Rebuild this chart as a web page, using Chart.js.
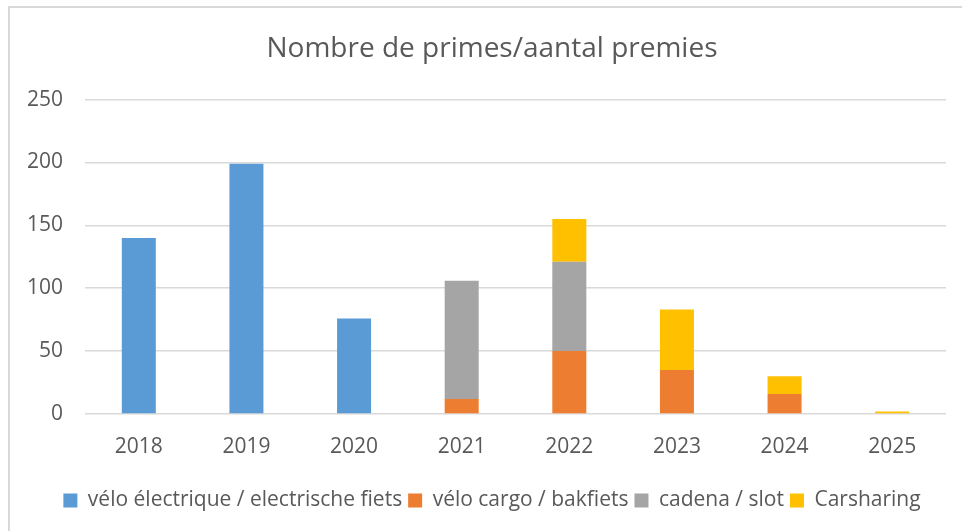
<!DOCTYPE html>
<html>
<head>
<meta charset="utf-8">
<script src="https://cdn.jsdelivr.net/npm/chart.js@4"></script>
<style>
  html, body { margin: 0; padding: 0; background: #fff; overflow: hidden; }
  #wrap { position: relative; width: 962px; height: 531px; overflow: hidden; }
  #frame { position: absolute; left: 8px; top: 6px; width: 980px; height: 560px; border: 2px solid #d9d9d9; box-sizing: border-box; pointer-events: none; }
</style>
</head>
<body>
<div id="wrap">
  <canvas id="myChart" width="992" height="531"></canvas>
  <div id="frame"></div>
</div>
<script>
const years = ['2018', '2019', '2020', '2021', '2022', '2023', '2024', '2025']
const veloElectrique = [140, 199, 76, 0, 0, 0, 0, 0]
const veloCargo = [0, 0, 0, 12, 50, 35, 16, 0]
const cadena = [0, 0, 0, 94, 71, 0, 0, 0]
const carsharing = [0, 0, 0, 0, 34, 48, 14, 2]
const yTicks = [0, 50, 100, 150, 200, 250]

const textColor = '#595959'
const fontFamily = '"Open Sans", sans-serif'

const datasets = [
    { label: 'vélo électrique / electrische fiets', data: veloElectrique, backgroundColor: '#5b9bd5' },
    { label: 'vélo cargo / bakfiets', data: veloCargo, backgroundColor: '#ed7d31' },
    { label: 'cadena / slot', data: cadena, backgroundColor: '#a5a5a5' },
    { label: 'Carsharing', data: carsharing, backgroundColor: '#ffc000' }
].map(ds => ({ ...ds, borderWidth: 0, barPercentage: 0.316, categoryPercentage: 1 }))

const config = {
    type: 'bar',
    data: { labels: years, datasets },
    options: {
        responsive: false,
        animation: false,
        layout: { padding: { left: 8, right: 16, top: 15, bottom: 10 } },
        plugins: {
            title: {
                display: true,
                text: 'Nombre de primes/aantal premies',
                color: textColor,
                font: { family: fontFamily, size: 28, weight: 'normal' },
                padding: { top: 17, bottom: 34 }
            },
            legend: {
                position: 'bottom',
                labels: {
                    color: textColor,
                    font: { family: fontFamily, size: 21 },
                    boxWidth: 14,
                    boxHeight: 14,
                    padding: 6
                }
            },
            tooltip: { enabled: false }
        },
        scales: {
            x: {
                stacked: true,
                grid: { display: false, drawTicks: false },
                border: { display: false },
                ticks: { color: textColor, font: { family: fontFamily, size: 21 }, padding: 20 },
                afterFit: (scale) => { scale.height = 70 }
            },
            y: {
                stacked: true,
                min: 0,
                max: 250,
                afterBuildTicks: (scale) => { scale.ticks = yTicks.map(v => ({ value: v })) },
                grid: { color: '#d9d9d9', lineWidth: 1.5, drawTicks: false },
                border: { display: false },
                ticks: { color: textColor, font: { family: fontFamily, size: 21 }, padding: 22 },
                afterFit: (scale) => { scale.width = 77 }
            },
            // empty right-hand gutter so the title and legend sit centred like the frame
            gutter: {
                position: 'right',
                min: 0,
                max: 250,
                grid: { display: false, drawTicks: false },
                border: { display: false },
                ticks: { display: false },
                afterFit: (scale) => { scale.width = 30 }
            }
        }
    }
}

new Chart(document.getElementById('myChart'), config)
</script>
</body>
</html>
